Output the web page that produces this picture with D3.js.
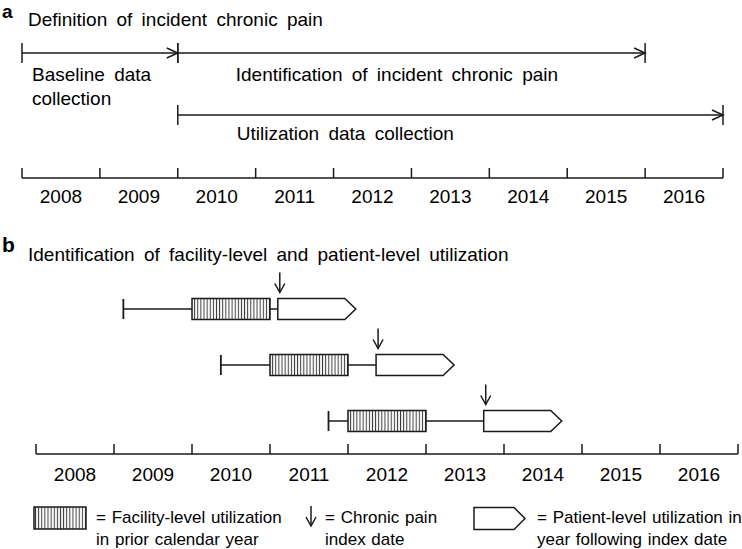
<!DOCTYPE html>
<html><head><meta charset="utf-8">
<script src="https://cdn.jsdelivr.net/npm/d3@7"></script>
<style>
html,body{margin:0;padding:0;background:#fff;}
svg{display:block;font-family:"Liberation Sans",Arial,sans-serif;}
</style></head><body>
<script>
// ---- data ----
const years = [2008, 2009, 2010, 2011, 2012, 2013, 2014, 2015, 2016];
const yearLabels = ["2008","2009","2010","2011","2012","2013","2014","2015","2016"];

// panel a periods (start year, end year)
const periodNames = ["Baseline data collection", "Identification of incident chronic pain", "Utilization data collection"];
const periodStart = [2008, 2010, 2010];
const periodEnd = [2010, 2016, 2017];

// panel b example patients
const lookbackStart = [2009.12, 2010.37, 2011.75];
const priorYearStart = [2010, 2011, 2012];
const priorYearEnd = [2011, 2012, 2013];
const indexDate = [2011.10, 2012.36, 2013.74];
const followEnd = [2012.10, 2013.36, 2014.74];

const W = 742, H = 549;
const ink = "#1a1a1a";
const svg = d3.select("body").append("svg").attr("width", W).attr("height", H);

const defs = svg.append("defs");
const pat = defs.append("pattern").attr("id","hatch").attr("patternUnits","userSpaceOnUse")
  .attr("width",3.12).attr("height",10);
pat.append("rect").attr("width",3.12).attr("height",10).attr("fill","#fff");
pat.append("line").attr("x1",1.2).attr("x2",1.2).attr("y1",0).attr("y2",10).attr("stroke","#333").attr("stroke-width",1);

function chevronRight(g, x, y){
  g.append("path").attr("d",`M${x-11},${y-5}L${x},${y}L${x-11},${y+5}`)
    .attr("fill","none").attr("stroke",ink).attr("stroke-width",1.5);
}
function downArrow(g, x, y0, y1){
  g.append("line").attr("x1",x).attr("x2",x).attr("y1",y0).attr("y2",y1).attr("stroke",ink).attr("stroke-width",1.5);
  g.append("path").attr("d",`M${x-5},${y1-9}L${x},${y1}L${x+5},${y1-9}`)
    .attr("fill","none").attr("stroke",ink).attr("stroke-width",1.5);
}
function yearAxis(g, x, yBase, labelY){
  g.append("line").attr("x1",x(years[0])).attr("x2",x(years[years.length-1]+1))
    .attr("y1",yBase).attr("y2",yBase).attr("stroke",ink).attr("stroke-width",1.5);
  const ticks = years.concat([years[years.length-1]+1]);
  g.selectAll(null).data(ticks).join("line")
    .attr("x1",d=>x(d)).attr("x2",d=>x(d)).attr("y1",yBase-10).attr("y2",yBase)
    .attr("stroke",ink).attr("stroke-width",1.5);
  g.selectAll(null).data(years).join("text")
    .attr("x",(d)=>x(d+0.5)).attr("y",labelY).attr("text-anchor","middle")
    .attr("font-size",19).text((d,i)=>yearLabels[i]);
}

// ---- panel a ----
const xa = d3.scaleLinear().domain([2008, 2017]).range([22, 723]);
const ga = svg.append("g");
ga.append("text").attr("x",2).attr("y",18).attr("font-size",19).attr("font-weight","bold").text("a");
ga.append("text").attr("x",28).attr("y",25.5).attr("font-size",19).attr("word-spacing","4px").text("Definition of incident chronic pain");

const periodY = [53, 53, 115];
periodStart.forEach((s,i)=>{
  const y = periodY[i], x0 = xa(s), x1 = xa(periodEnd[i]);
  ga.append("line").attr("x1",x0).attr("x2",x1).attr("y1",y).attr("y2",y).attr("stroke",ink).attr("stroke-width",1.5);
  ga.append("line").attr("x1",x0).attr("x2",x0).attr("y1",y-10).attr("y2",y+10).attr("stroke",ink).attr("stroke-width",1.5);
  ga.append("line").attr("x1",x1).attr("x2",x1).attr("y1",y-10).attr("y2",y+10).attr("stroke",ink).attr("stroke-width",1.5);
  chevronRight(ga, x1, y);
});
ga.append("text").attr("x",32).attr("y",80.5).attr("font-size",19).attr("word-spacing","4px").text("Baseline data");
ga.append("text").attr("x",32).attr("y",104.5).attr("font-size",19).text("collection");
ga.append("text").attr("x",xa(periodStart[1])+58).attr("y",80.5).attr("font-size",19).attr("word-spacing","4px").text(periodNames[1]);
ga.append("text").attr("x",xa(periodStart[2])+59).attr("y",140).attr("font-size",19).attr("word-spacing","4px").text(periodNames[2]);

yearAxis(ga, xa, 178, 203);

// ---- panel b ----
const xb = d3.scaleLinear().domain([2008, 2017]).range([36, 738]);
const gb = svg.append("g");
gb.append("text").attr("x",2).attr("y",252).attr("font-size",21).attr("font-weight","bold").text("b");
gb.append("text").attr("x",28).attr("y",261).attr("font-size",19).attr("word-spacing","4px")
  .text("Identification of facility-level and patient-level utilization");

const rowY = [309, 365, 421];
const bh = 21;
function pentagon(g, x0, x1, yc, h){
  const t = h/2;
  g.append("path").attr("d",`M${x0},${yc-t}L${x1-11},${yc-t}L${x1},${yc}L${x1-11},${yc+t}L${x0},${yc+t}Z`)
    .attr("fill","#fff").attr("stroke",ink).attr("stroke-width",1.5);
}
lookbackStart.forEach((s,i)=>{
  const yc = rowY[i];
  const xs = xb(s), xi = xb(indexDate[i]);
  gb.append("line").attr("x1",xs).attr("x2",xi).attr("y1",yc).attr("y2",yc).attr("stroke",ink).attr("stroke-width",1.5);
  gb.append("line").attr("x1",xs).attr("x2",xs).attr("y1",yc-10).attr("y2",yc+10).attr("stroke",ink).attr("stroke-width",1.8);
  gb.append("rect").attr("x",xb(priorYearStart[i])).attr("y",yc-bh/2)
    .attr("width",xb(priorYearEnd[i])-xb(priorYearStart[i])).attr("height",bh)
    .attr("fill","url(#hatch)").attr("stroke",ink).attr("stroke-width",1.5);
  pentagon(gb, xi, xb(followEnd[i]), yc, bh);
  downArrow(gb, xi+2, yc-bh/2-26, yc-bh/2-6);
});

yearAxis(gb, xb, 454, 480.5);

// ---- legend ----
const gl = svg.append("g").attr("font-size",17);
gl.append("rect").attr("x",34).attr("y",507).attr("width",52).attr("height",22)
  .attr("fill","url(#hatch)").attr("stroke",ink).attr("stroke-width",1.5);
gl.append("text").attr("x",96).attr("y",523).attr("word-spacing","1px").text("= Facility-level utilization");
gl.append("text").attr("x",96).attr("y",545).attr("word-spacing","1px").text("in prior calendar year");
downArrow(gl, 311, 506, 526);
gl.append("text").attr("x",325).attr("y",523).attr("word-spacing","1px").text("= Chronic pain");
gl.append("text").attr("x",325).attr("y",545).attr("word-spacing","1px").text("index date");
pentagon(gl, 474, 525, 518.5, 22);
gl.append("text").attr("x",537).attr("y",523).attr("word-spacing","1px").text("= Patient-level utilization in");
gl.append("text").attr("x",537).attr("y",545).attr("word-spacing","1px").text("year following index date");
</script>
</body></html>
